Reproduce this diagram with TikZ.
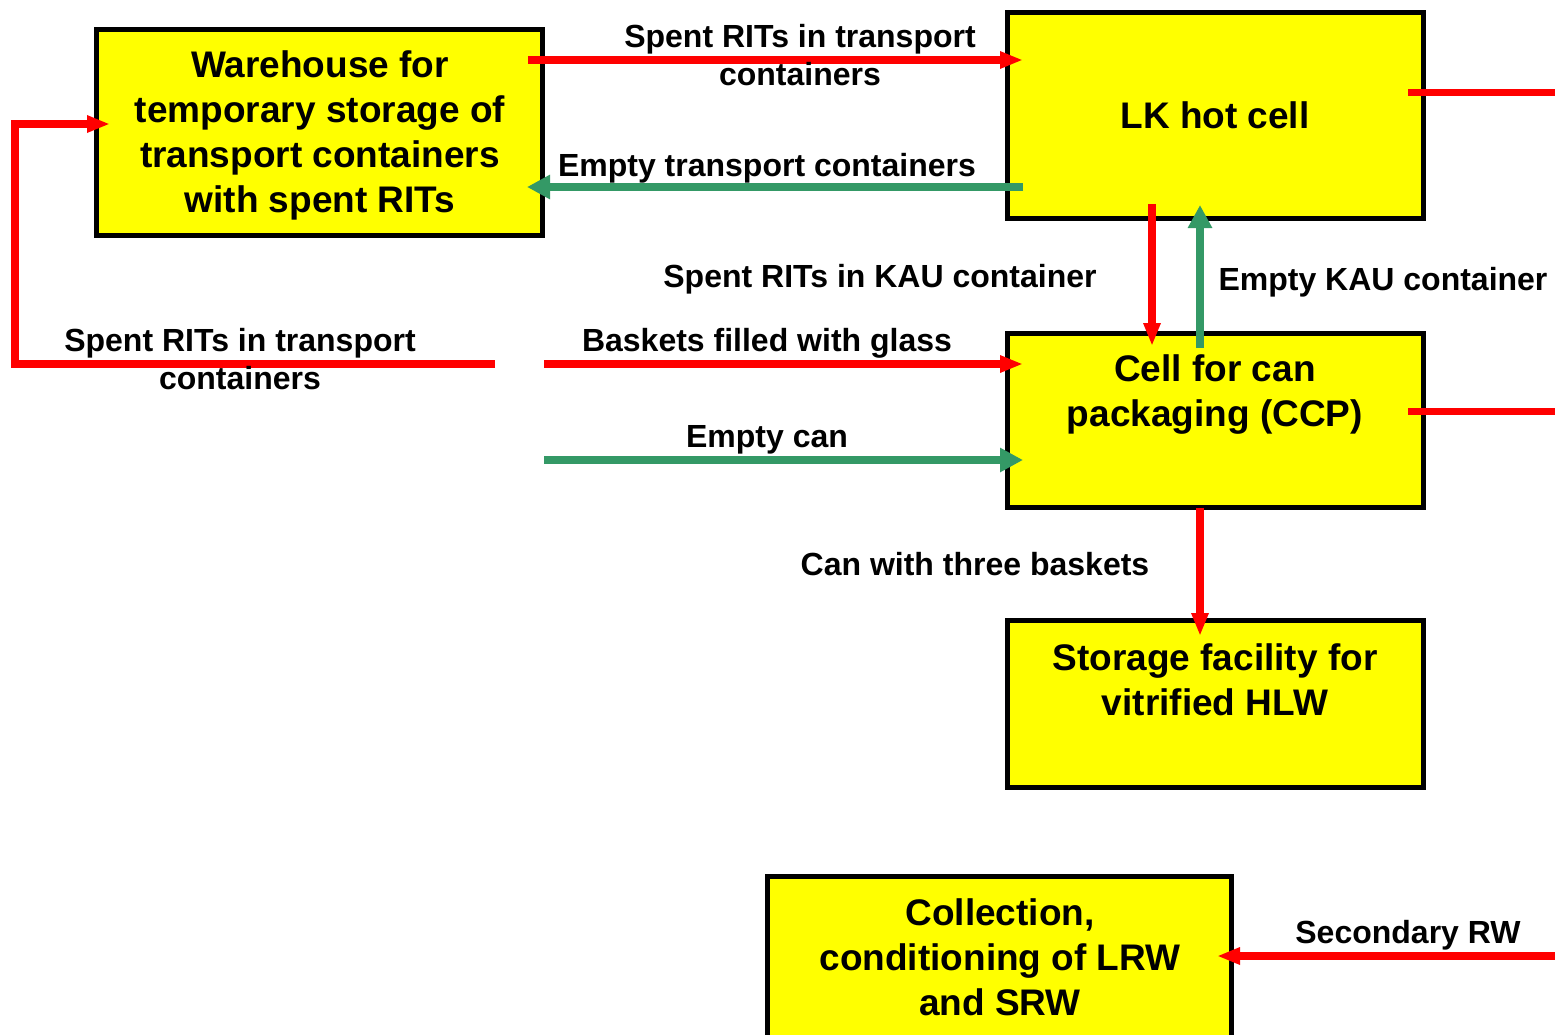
\documentclass[tikz,border=0pt]{standalone}
\usepackage{fontspec}
\setmainfont{Liberation Sans}
\usetikzlibrary{arrows.meta}
\definecolor{boxyellow}{RGB}{255,255,0}
\definecolor{flowred}{RGB}{255,0,0}
\definecolor{flowgreen}{RGB}{52,153,102}
\tikzset{
  unitbox/.style={draw=black, line width=5pt, fill=boxyellow, inner sep=0pt, outer sep=0pt},
  boxtext/.style={font=\fontsize{37}{45}\selectfont\bfseries, align=center, inner sep=0pt},
  flowlabel/.style={font=\fontsize{32}{38}\selectfont\bfseries, align=center, inner sep=0pt},
  ra/.style={draw=flowred, line width=7.3pt, line join=miter, -{Triangle[length=23pt,width=16pt]}},
  rl/.style={draw=flowred, line width=7pt},
  ga/.style={draw=flowgreen, line width=7.8pt, -{Triangle[length=23pt,width=23pt]}},
}
\begin{document}
\begin{tikzpicture}[x=1pt,y=-1pt]
\useasboundingbox (0,0) rectangle (1555,1034);
\fill[white] (0,0) rectangle (1555,1034);

% boxes
\node[unitbox, minimum width=446, minimum height=206] (wh) at (319.5,132.5) {};
\node[unitbox, minimum width=416, minimum height=206] (lk) at (1215.5,115.5) {};
\node[unitbox, minimum width=416, minimum height=174] (ccp) at (1215.5,420.5) {};
\node[unitbox, minimum width=416, minimum height=167] (st) at (1215.5,704) {};
\node[unitbox, minimum width=464, minimum height=170] (col) at (999.5,961.5) {};

% box texts
\node[boxtext, anchor=north] (wht) at (320,50.7) {Warehouse for\\temporary storage of\\transport containers\\with spent RITs};
\node[boxtext, anchor=base] (lkt) at (1215,128.3) {LK hot cell};
\node[boxtext, anchor=north] (ccpt) at (1215,354.7) {Cell for can\\packaging (CCP)};
\node[boxtext, anchor=north] (stt) at (1215,643.7) {Storage facility for\\vitrified HLW};
\node[boxtext, anchor=north] (colt) at (1000,898.7) {Collection,\\conditioning of LRW\\and SRW};

% free ends
\coordinate (e1) at (1555,92);
\coordinate (e2) at (1555,411);
\coordinate (e3) at (1555,956);
\coordinate (ls) at (495,364);
\coordinate (lc) at (15,124);
\coordinate (bs) at (544,364);
\coordinate (cs) at (544,460);

% connectors
\draw[ra] ([xshift=-14.5pt]wh.east |- 0,60) -- ([xshift=15.5pt]lk.west |- 0,60);
\draw[ga] ([xshift=15.5pt]lk.west |- 0,187) -- ([xshift=-15.5pt]wh.east |- 0,187);
\draw[ra] ([yshift=14.5pt]lk.south -| 1152,0) -- ([yshift=-12.5pt]ccp.north -| 1152,0);
\draw[ga] ([yshift=-14.5pt]ccp.north -| 1200,0) -- ([yshift=13.5pt]lk.south -| 1200,0);
\draw[ra] (ccp.south -| 1200,0) -- ([yshift=-15.5pt]st.north -| 1200,0);
\draw[rl] ([xshift=-15.5pt]lk.east |- e1) -- (e1);
\draw[rl] ([xshift=-15.5pt]ccp.east |- e2) -- (e2);
\draw[ra] (ls) -| (lc) -- ([xshift=13.5pt]wh.west |- lc);
\draw[ra] (bs) -- ([xshift=15.5pt]ccp.west |- bs);
\draw[ga] (cs) -- ([xshift=15.5pt]ccp.west |- cs);
\draw[ra] (e3) -- ([xshift=-14.5pt]col.east |- e3);

% labels
\node[flowlabel, anchor=north] (l1) at (800,24.5) {Spent RITs in transport\\containers};
\node[flowlabel, anchor=base] (l2) at (767,176) {Empty transport containers};
\node[flowlabel, anchor=base] (l3) at (880,287.5) {Spent RITs in KAU container};
\node[flowlabel, anchor=base] (l4) at (1383,290.5) {Empty KAU container};
\node[flowlabel, anchor=north] (l5) at (240,328.5) {Spent RITs in transport\\containers};
\node[flowlabel, anchor=base] (l6) at (767,351.5) {Baskets filled with glass};
\node[flowlabel, anchor=base] (l7) at (767,447.5) {Empty can};
\node[flowlabel, anchor=base] (l8) at (975,575.5) {Can with three baskets};
\node[flowlabel, anchor=base] (l9) at (1408,943.5) {Secondary RW};
\end{tikzpicture}
\end{document}
